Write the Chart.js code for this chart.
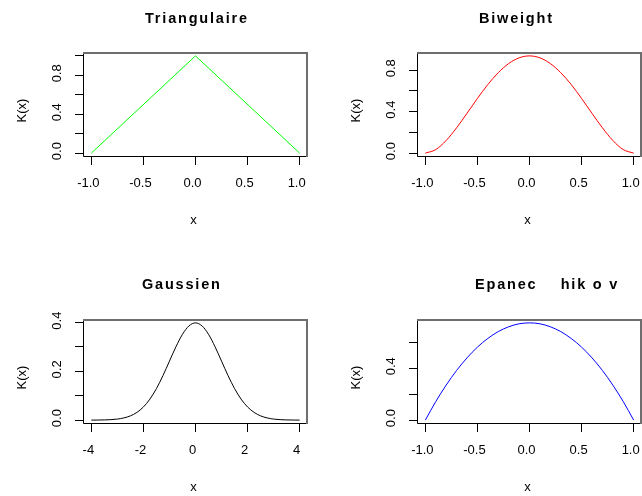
<!DOCTYPE html>
<html><head><meta charset="utf-8">
<script src="https://cdn.jsdelivr.net/npm/chart.js@4"></script>
<style>
html,body{margin:0;padding:0;background:#fff;overflow:hidden;}
#wrap{position:relative;width:642px;height:496px;overflow:hidden;background:#fff;}
canvas{position:absolute;}
</style></head><body><div id="wrap">
<canvas id="c1" width="321" height="248" style="left:0px;top:0px"></canvas>
<canvas id="c2" width="321" height="248" style="left:321px;top:0px"></canvas>
<canvas id="c3" width="321" height="248" style="left:0px;top:248px"></canvas>
<canvas id="c4" width="321" height="248" style="left:321px;top:248px"></canvas>
</div>
<script>
// ---- data ----
const titles = ['Triangulaire', 'Biweight', 'Gaussien', 'Epanec    hik o v'];
const xAxisTitle = 'x';
const yAxisTitle = 'K(x)';

const triX = [-1, 0, 1];
const triY = [0, 1, 0];

const biX = [-1, -0.9, -0.8, -0.7, -0.6, -0.5, -0.4, -0.3, -0.2, -0.1, 0, 0.1, 0.2, 0.3, 0.4, 0.5, 0.6, 0.7, 0.8, 0.9, 1];
const biY = [0, 0.034, 0.122, 0.244, 0.384, 0.527, 0.662, 0.776, 0.864, 0.919, 0.938, 0.919, 0.864, 0.776, 0.662, 0.527, 0.384, 0.244, 0.122, 0.034, 0];

const gaX = [-4, -3.75, -3.5, -3.25, -3, -2.75, -2.5, -2.25, -2, -1.75, -1.5, -1.25, -1, -0.75, -0.5, -0.25, 0, 0.25, 0.5, 0.75, 1, 1.25, 1.5, 1.75, 2, 2.25, 2.5, 2.75, 3, 3.25, 3.5, 3.75, 4];
const gaY = [0.0001, 0.0004, 0.0009, 0.002, 0.0044, 0.0091, 0.0175, 0.0317, 0.054, 0.0863, 0.1295, 0.1826, 0.242, 0.3011, 0.3521, 0.3867, 0.3989, 0.3867, 0.3521, 0.3011, 0.242, 0.1826, 0.1295, 0.0863, 0.054, 0.0317, 0.0175, 0.0091, 0.0044, 0.002, 0.0009, 0.0004, 0.0001];

const epX = [-1, -0.9, -0.8, -0.7, -0.6, -0.5, -0.4, -0.3, -0.2, -0.1, 0, 0.1, 0.2, 0.3, 0.4, 0.5, 0.6, 0.7, 0.8, 0.9, 1];
const epY = [0, 0.143, 0.27, 0.383, 0.48, 0.563, 0.63, 0.683, 0.72, 0.743, 0.75, 0.743, 0.72, 0.683, 0.63, 0.563, 0.48, 0.383, 0.27, 0.143, 0];

const kernelXTicks = [-1, -0.5, 0, 0.5, 1];
const kernelXLabels = ['-1.0', '-0.5', '0.0', '0.5', '1.0'];
const gaussXTicks = [-4, -2, 0, 2, 4];
const gaussXLabels = ['-4', '-2', '0', '2', '4'];

const triYTicks = [0, 0.2, 0.4, 0.6, 0.8, 1.0];
const triYLabels = ['0.0', '', '0.4', '', '0.8', ''];
const biYTicks = [0, 0.2, 0.4, 0.6, 0.8];
const biYLabels = ['0.0', '', '0.4', '', '0.8'];
const gaYTicks = [0, 0.1, 0.2, 0.3, 0.4];
const gaYLabels = ['0.0', '', '0.2', '', '0.4'];
const epYTicks = [0, 0.2, 0.4, 0.6];
const epYLabels = ['0.0', '', '0.4', ''];

// ---- rendering ----
const FONT = '"Liberation Sans", Arial, Helvetica, sans-serif';

const rPanel = {
  id: 'rpanel',
  afterDraw(chart, args, o) {
    const ctx = chart.ctx, a = chart.chartArea;
    ctx.save();
    // plot box (R style)
    ctx.lineWidth = 1; ctx.strokeStyle = '#000';
    ctx.beginPath();
    ctx.moveTo(a.left + 0.5, a.top); ctx.lineTo(a.left + 0.5, a.bottom - 0.5); ctx.lineTo(a.right, a.bottom - 0.5);
    ctx.stroke();
    ctx.lineWidth = 2; ctx.strokeStyle = '#6e6e6e';
    ctx.beginPath();
    ctx.moveTo(a.left, a.top + 1); ctx.lineTo(a.right - 1, a.top + 1); ctx.lineTo(a.right - 1, a.bottom);
    ctx.stroke();
    // main title
    ctx.fillStyle = '#000';
    ctx.font = 'bold 14.5px ' + FONT;
    if ('letterSpacing' in ctx) ctx.letterSpacing = '1.8px';
    ctx.textAlign = 'left'; ctx.textBaseline = 'alphabetic';
    ctx.fillText(o.title, o.titleX, o.titleY);
    if ('letterSpacing' in ctx) ctx.letterSpacing = '0px';
    // axis titles
    ctx.font = '13px ' + FONT;
    ctx.textAlign = 'center';
    ctx.fillText(xAxisTitle, (a.left + a.right) / 2 - 2, a.bottom + 66.5);
    ctx.translate(a.left - 60.3, (a.top + a.bottom) / 2 + 6);
    ctx.rotate(-Math.PI / 2);
    ctx.textBaseline = 'middle';
    ctx.fillText(yAxisTitle, 0, 0);
    ctx.restore();
  }
};

function ext(arr) {
  const lo = Math.min(...arr), hi = Math.max(...arr), d = (hi - lo) * 0.04;
  return [lo - d, hi + d];
}

function makePanel(id, p) {
  const xr = ext(p.x), yr = ext(p.y);
  return new Chart(document.getElementById(id), {
    type: 'line',
    data: {
      datasets: [{
        data: p.x.map((v, i) => ({ x: v, y: p.y[i] })),
        borderColor: p.color, borderWidth: 1, pointRadius: 0, fill: false,
        tension: p.smooth ? 0.4 : 0,
        cubicInterpolationMode: p.smooth ? 'monotone' : 'default'
      }]
    },
    options: {
      responsive: false, animation: false, events: [],
      layout: { padding: p.pad },
      plugins: {
        legend: { display: false }, tooltip: { enabled: false }, title: { display: false },
        rpanel: { title: p.title, titleX: p.titleX, titleY: p.titleY }
      },
      scales: {
        x: {
          type: 'linear', position: 'bottom', min: xr[0], max: xr[1],
          afterBuildTicks: s => { s.ticks = p.xTicks.map(v => ({ value: v })); },
          afterFit: s => { s.height = p.xh; s.paddingLeft = 0; s.paddingRight = 0; },
          grid: { display: true, drawOnChartArea: false, drawTicks: true, tickLength: 8, color: '#000', lineWidth: 1 },
          border: { display: false },
          ticks: { autoSkip: false, minRotation: 0, maxRotation: 0, padding: 11, labelOffset: -3, color: '#000',
                   font: { family: FONT, size: 13 }, callback: (v, i) => p.xLabels[i] }
        },
        y: {
          type: 'linear', position: 'left', min: yr[0], max: yr[1],
          afterBuildTicks: s => { s.ticks = p.yTicks.map(v => ({ value: v })); },
          afterFit: s => { s.width = p.yw; s.paddingTop = 0; s.paddingBottom = 0; },
          grid: { display: true, drawOnChartArea: false, drawTicks: true, tickLength: 8, color: '#000', lineWidth: 1 },
          border: { display: false },
          ticks: { autoSkip: false, minRotation: 90, maxRotation: 90, crossAlign: 'center', padding: 8.5, labelOffset: -2, color: '#000',
                   font: { family: FONT, size: 13 }, callback: (v, i) => p.yLabels[i] }
        }
      }
    },
    plugins: [rPanel]
  });
}

makePanel('c1', { x: triX, y: triY, color: '#00ff00', smooth: false, title: titles[0], titleX: 145, titleY: 23,
  xTicks: kernelXTicks, xLabels: kernelXLabels, yTicks: triYTicks, yLabels: triYLabels,
  pad: { left: 0, right: 13, top: 52, bottom: 0 }, yw: 83, xh: 91 });
makePanel('c2', { x: biX, y: biY, color: '#ff0000', smooth: true, title: titles[1], titleX: 158, titleY: 23,
  xTicks: kernelXTicks, xLabels: kernelXLabels, yTicks: biYTicks, yLabels: biYLabels,
  pad: { left: 0, right: 0, top: 52, bottom: 0 }, yw: 96, xh: 91 });
makePanel('c3', { x: gaX, y: gaY, color: '#000000', smooth: true, title: titles[2], titleX: 142, titleY: 41,
  xTicks: gaussXTicks, xLabels: gaussXLabels, yTicks: gaYTicks, yLabels: gaYLabels,
  pad: { left: 0, right: 13, top: 71, bottom: 0 }, yw: 83, xh: 72 });
makePanel('c4', { x: epX, y: epY, color: '#0000ff', smooth: true, title: titles[3], titleX: 154, titleY: 41,
  xTicks: kernelXTicks, xLabels: kernelXLabels, yTicks: epYTicks, yLabels: epYLabels,
  pad: { left: 0, right: 0, top: 71, bottom: 0 }, yw: 96, xh: 72 });
</script>
</body></html>
